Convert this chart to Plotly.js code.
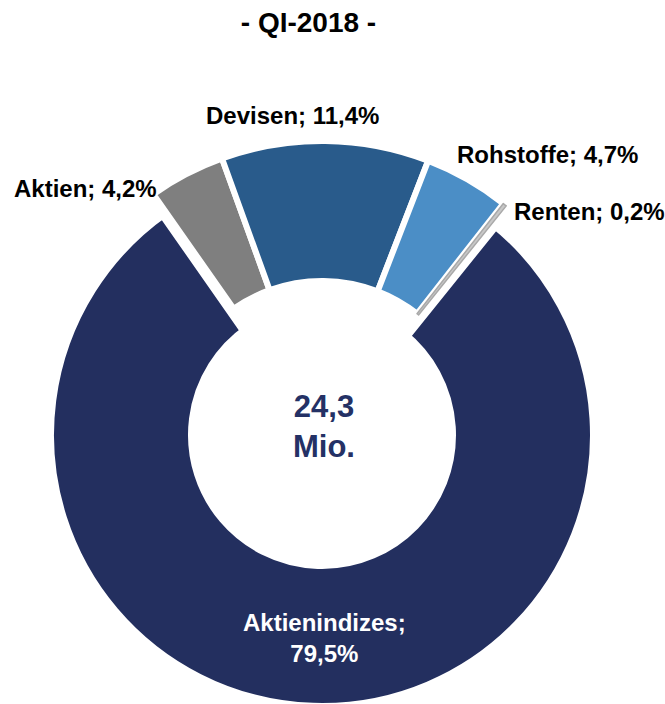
<!DOCTYPE html>
<html>
<head>
<meta charset="utf-8">
<script src="https://cdn.plot.ly/plotly-3.0.1.min.js"></script>
<style>html,body{margin:0;padding:0;background:#fff;overflow:hidden;}#wrap{width:665px;height:704px;overflow:hidden;}#chart{width:665px;height:740px;}</style>
</head>
<body>
<div id="wrap"><div id="chart"></div></div>
<script>
// Data
var categories = ["Aktienindizes", "Aktien", "Devisen", "Rohstoffe", "Renten"];
var shares = [79.5, 4.2, 11.4, 4.7, 0.2];
var totalText = ["24,3", "Mio."];
var chartTitle = "- QI-2018 -";

var colors = ["#232F5F", "#7F7F7F", "#295B8B", "#4B8EC6", "#C8C8C8"];
// which slices sit on the exploded (outer) ring
var exploded = [false, true, true, true, true];

function fmt(v) { return v.toFixed(1).replace(".", ",") + "%"; }
function lab(i) { return categories[i] + "; " + fmt(shares[i]); }

var W = 665, H = 740;
function px(x) { return x / W; }
function py(y) { return 1 - y / H; }

var font = "Liberation Sans, Arial, sans-serif";
var rot = 38.8;

// inner ring: main slice only
var innerColors = colors.map(function (c, i) { return exploded[i] ? "rgba(0,0,0,0)" : c; });
var innerLineWidths = exploded.map(function (e) { return e ? 0 : 16; });
var traceMain = {
  type: "pie",
  labels: categories,
  values: shares,
  sort: false,
  direction: "clockwise",
  rotation: rot,
  hole: 0.4565,
  textinfo: "none",
  hoverinfo: "label+percent",
  marker: { colors: innerColors, line: { color: "#FFFFFF", width: innerLineWidths } },
  domain: { x: [0.06917, 0.89925], y: [0.03919, 0.78514] },
  showlegend: false
};

// outer ring: exploded slices
var outerColors = colors.map(function (c, i) { return exploded[i] ? c : "rgba(0,0,0,0)"; });
var outerLineColors = categories.map(function (c, i) { return i === 4 ? "#A9A9A9" : "#FFFFFF"; });
var outerLineWidths = categories.map(function (c, i) { return !exploded[i] ? 0 : (i === 4 ? 1.5 : 6); });
var traceExploded = {
  type: "pie",
  labels: categories,
  values: shares,
  sort: false,
  direction: "clockwise",
  rotation: rot,
  hole: 0.524,
  textinfo: "none",
  hoverinfo: "label+percent",
  marker: { colors: outerColors, line: { color: outerLineColors, width: outerLineWidths } },
  domain: { x: [0.04211, 0.92632], y: [0.014865, 0.809459] },
  showlegend: false
};

var annFont = { family: font, size: 24, color: "#000000" };
var annotations = [
  { text: "<b>" + lab(2) + "</b>", x: px(292), y: py(116), xanchor: "center", yanchor: "middle" },
  { text: "<b>" + lab(1) + "</b>", x: px(12), y: py(189), xanchor: "left", yanchor: "middle" },
  { text: "<b>" + lab(3) + "</b>", x: px(455), y: py(155), xanchor: "left", yanchor: "middle" },
  { text: "<b>" + lab(4) + "</b>", x: px(512), y: py(212), xanchor: "left", yanchor: "middle" },
  { text: "<b>" + categories[0] + ";<br>" + fmt(shares[0]) + "</b>", x: px(324), y: py(638), xanchor: "center", yanchor: "middle", font: { family: font, size: 24, color: "#FFFFFF" } },
  { text: "<b>" + totalText[0] + "<br>" + totalText[1] + "</b>", x: px(324), y: py(426), xanchor: "center", yanchor: "middle", font: { family: font, size: 31, color: "#243165" } }
].map(function (a) {
  return Object.assign({ xref: "paper", yref: "paper", showarrow: false, font: annFont, align: "center" }, a);
});

var layout = {
  width: W, height: H,
  margin: { l: 0, r: 0, t: 0, b: 0 },
  paper_bgcolor: "#FFFFFF",
  title: { text: "<b>" + chartTitle + "</b>", x: px(308.5), xanchor: "center", y: py(22), yanchor: "middle", yref: "container", font: { family: font, size: 28, color: "#000000" } },
  annotations: annotations
};

Plotly.newPlot("chart", [traceMain, traceExploded], layout, { displayModeBar: false, staticPlot: true });
</script>
</body>
</html>
